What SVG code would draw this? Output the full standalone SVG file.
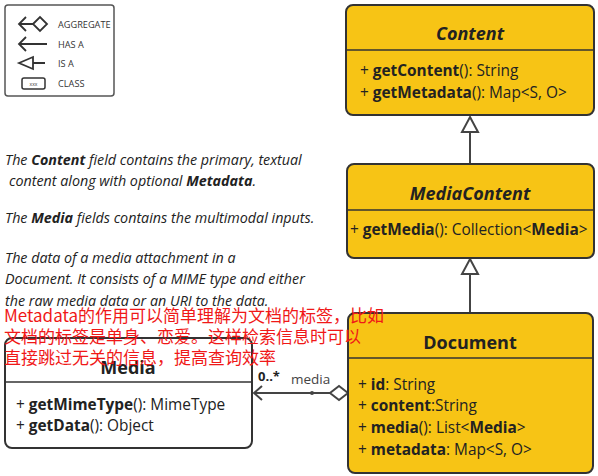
<svg xmlns="http://www.w3.org/2000/svg" width="598" height="476" viewBox="0 0 598 476">
<style>
.box{fill:#F7C415;stroke:#333;stroke-width:2}
.wbox{fill:#fff;stroke:#333;stroke-width:2}
.div{stroke:#333;stroke-width:1.5}
.t{font-family:"Open Sans","Liberation Sans",sans-serif;fill:#222}
.title{font-size:18px;font-weight:bold}
.m{font-size:15.4px}
.b{font-weight:bold}
.note{font-family:"Open Sans","Liberation Sans",sans-serif;font-size:14.3px;font-style:italic;fill:#222}
.leg{font-family:"Open Sans","Liberation Sans",sans-serif;font-size:9.2px;fill:#333}
.con{stroke:#444;stroke-width:2;fill:none}
.tri{fill:#fff;stroke:#444;stroke-width:2}
.red{font-family:"Noto Sans CJK SC","Liberation Sans",sans-serif;font-size:17px;fill:#F01818}
</style>
<g id="legend">
<rect x="5" y="5" width="109" height="91" rx="3" fill="#fff" stroke="#555" stroke-width="1.5"/>
<path d="M26,17 L19,24 L26,31 M19,24 L33,24 M33,24 L40,17 L47,24 L40,31 Z" fill="none" stroke="#333" stroke-width="1.8"/>
<path d="M26,37 L19,44 L26,51 M19,44 L47,44" fill="none" stroke="#333" stroke-width="1.8"/>
<path d="M19,63 L33,57 L33,69 Z M33,63 L45,63" fill="none" stroke="#333" stroke-width="1.8"/>
<rect x="22" y="78" width="23" height="11" rx="2" fill="#fff" stroke="#333" stroke-width="1.5"/>
<text x="33.5" y="85.5" text-anchor="middle" class="leg" style="font-size:5px">xxx</text>
<text x="58" y="27.5" class="leg">AGGREGATE</text>
<text x="58" y="47.5" class="leg">HAS A</text>
<text x="58" y="66.5" class="leg">IS A</text>
<text x="58" y="86.5" class="leg">CLASS</text>
</g>
<g id="connectors">
<line x1="470" y1="164" x2="470" y2="132" class="con"/>
<path d="M470,117 L478,132 L462,132 Z" class="tri"/>
<line x1="470" y1="313" x2="470" y2="274" class="con"/>
<path d="M470,259 L478,274 L462,274 Z" class="tri"/>
<line x1="331" y1="393" x2="254" y2="393" class="con"/>
<path d="M262,386 L254,393 L262,400" class="con"/>
<path d="M348,393 L339,386 L330,393 L339,400 Z" fill="#fff" stroke="#444" stroke-width="2"/>
<circle cx="312" cy="393" r="2" fill="#444"/>
<text x="291" y="384" class="t" style="font-size:13.5px;fill:#444">media</text>
<text x="258" y="381" class="t b" style="font-size:13px">0..*</text>
</g>
<g id="Content">
<rect x="346" y="5" width="248" height="110" rx="7" class="box"/>
<line x1="346" y1="50" x2="594" y2="50" class="div"/>
<text x="470" y="40" text-anchor="middle" class="t title" font-style="italic">Content</text>
<text x="360" y="76" class="t m">+ <tspan class="b">getContent</tspan>(): String</text>
<text x="360" y="98" class="t m">+ <tspan class="b">getMetadata</tspan>(): Map&lt;S, O&gt;</text>
</g>
<g id="MediaContent">
<rect x="347" y="164" width="247" height="94" rx="7" class="box"/>
<line x1="347" y1="210" x2="594" y2="210" class="div"/>
<text x="470" y="200" text-anchor="middle" class="t title" font-style="italic">MediaContent</text>
<text x="350" y="235" class="t m">+ <tspan class="b">getMedia</tspan>(): Collection&lt;<tspan class="b">Media</tspan>&gt;</text>
</g>
<g id="Document">
<rect x="348" y="313" width="245" height="160" rx="7" class="box"/>
<line x1="348" y1="358" x2="593" y2="358" class="div"/>
<text x="470" y="349" text-anchor="middle" class="t title">Document</text>
<text x="358" y="390" class="t m">+ <tspan class="b">id</tspan>: String</text>
<text x="358" y="411" class="t m">+ <tspan class="b">content</tspan>:String</text>
<text x="358" y="433" class="t m">+ <tspan class="b">media</tspan>(): List&lt;<tspan class="b">Media</tspan>&gt;</text>
<text x="358" y="455" class="t m">+ <tspan class="b">metadata</tspan>: Map&lt;S, O&gt;</text>
</g>
<g id="Media">
<rect x="5" y="338" width="247" height="110" rx="7" class="wbox"/>
<line x1="5" y1="382" x2="252" y2="382" class="div"/>
<text x="128" y="374" text-anchor="middle" class="t title">Media</text>
<text x="16" y="410" class="t m">+ <tspan class="b">getMimeType</tspan>(): MimeType</text>
<text x="16" y="431" class="t m">+ <tspan class="b">getData</tspan>(): Object</text>
</g>
<g id="notes">
<text x="5" y="165" class="note">The <tspan font-weight="bold">Content</tspan> field contains the primary, textual</text>
<text x="9" y="186" class="note">content along with optional <tspan font-weight="bold">Metadata</tspan>.</text>
<text x="5" y="223" class="note">The <tspan font-weight="bold">Media</tspan> fields contains the multimodal inputs.</text>
<text x="5" y="263" class="note">The data of a media attachment in a</text>
<text x="5" y="284" class="note">Document. It consists of a MIME type and either</text>
<text x="5" y="306" class="note">the raw media data or an URI to the data.</text>
</g>
<g id="annotation">
<text x="4" y="322" class="red">Metadata的作用可以简单理解为文档的标签，比如</text>
<text x="4" y="343" class="red">文档的标签是单身、恋爱。这样检索信息时可以</text>
<text x="4" y="364" class="red">直接跳过无关的信息，提高查询效率</text>
</g>
</svg>
